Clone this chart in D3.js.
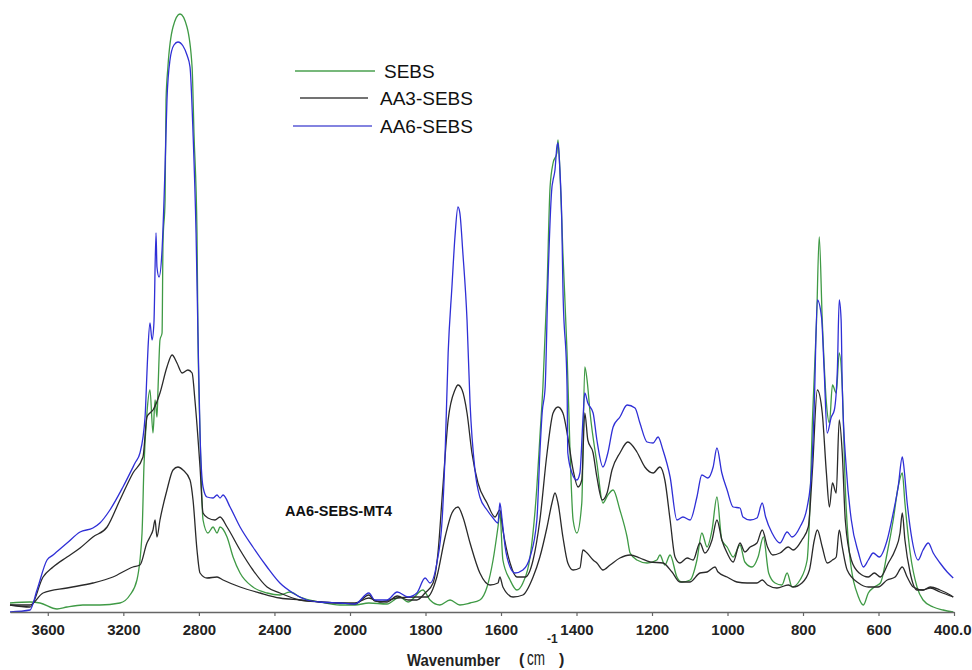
<!DOCTYPE html>
<html>
<head>
<meta charset="utf-8">
<script src="https://cdn.jsdelivr.net/npm/d3@7"></script>
<style>
  html, body { margin: 0; padding: 0; background: #fff; }
  svg { display: block; }
</style>
</head>
<body>
<svg id="chart" width="972" height="670"></svg>
<script>
// ---- Data (wavenumber cm^-1, absorbance in arbitrary units) ----
const tickValues = [3600, 3200, 2800, 2400, 2000, 1800, 1600, 1400, 1200, 1000, 800, 600, 400];
const tickLabels = ["3600", "3200", "2800", "2400", "2000", "1800", "1600", "1400", "1200", "1000", "800", "600", "400.0"];
const legendNames = ["SEBS", "AA3-SEBS", "AA6-SEBS"];
const annotation = "AA6-SEBS-MT4";

const SEBS = [
  [3800,1.8],[3694,2.0],[3641,1.8],[3551,0.6],[3498,1.0],[3414,1.4],[3324,1.4],[3218,1.8],[3165,3.4],[3128,6.4],
  [3101,15.8],[3091,29],[3075,39.8],[3059,44.4],[3043,35.8],[3032,42.4],[3022,39],[3016,45],[3006,54.4],[2995,55.8],
  [2990,73.8],[2979,82.4],[2974,102.4],[2964,109],[2937,117],[2900,119.6],[2863,117],[2836,109],[2826,95.8],[2810,75.8],
  [2805,55.8],[2794,35.8],[2778,18.4],[2752,15.8],[2725,17],[2704,15.8],[2688,17],[2651,15],[2619,11],[2582,7.8],
  [2514,5.0],[2439,3.8],[2371,3.4],[2318,4.0],[2265,3.0],[2159,2.0],[2053,1.4],[1987,1.4],[1950,1.8],[1902,1.6],
  [1868,3.0],[1846,2.0],[1807,4.4],[1788,2.4],[1762,1.4],[1735,2.4],[1709,1.4],[1682,1.8],[1656,2.4],[1637,5.0],
  [1621,10.4],[1608,17],[1603,19.8],[1595,10.4],[1576,6.4],[1558,4.4],[1542,5.8],[1523,11],[1505,25],[1497,35],
  [1489,45],[1478,65],[1470,85],[1462,89.8],[1452,91.8],[1449,94.4],[1444,88.4],[1436,71.8],[1425,51.8],[1417,31.8],
  [1409,18.4],[1399,15.8],[1386,21.8],[1378,49],[1372,46.4],[1364,39.8],[1346,29.8],[1330,21.8],[1317,23.4],[1303,24.4],
  [1285,20.4],[1266,15],[1258,11.8],[1240,10.4],[1213,9.8],[1187,10.4],[1179,11.4],[1166,9.4],[1152,11.4],[1134,7.0],
  [1121,6.0],[1099,6.4],[1081,10.4],[1068,15.8],[1054,13],[1041,16.4],[1028,23],[1015,14.4],[1001,13],[985,11],
  [967,13.4],[954,10],[935,9],[919,11],[905,15],[891,7.8],[874,5.8],[856,5.4],[842,7.8],[829,5.0],
  [808,6.4],[789,10.4],[783,18.4],[775,38.4],[764,58.4],[757,75],[749,58.4],[738,41.8],[730,37.8],[722,45.4],
  [712,43.8],[704,51.8],[696,45],[688,25],[677,11.8],[653,3.0],[640,1.4],[627,3.8],[611,5.0],[595,5.8],
  [577,11.8],[561,18.4],[548,25],[537,27.8],[530,21.8],[516,11.8],[498,5.0],[482,2.4],[455,1.0],[429,0.4],[402,0]
];

const AA3_SEBS = [
  [3800,1.4],[3694,1.0],[3625,7.0],[3572,9.0],[3498,11],[3429,12.8],[3361,15],[3286,17],[3218,22.4],[3149,27.8],
  [3096,31],[3075,39],[3059,39.8],[3043,40.4],[3006,43.8],[2969,49],[2942,51.4],[2916,49.8],[2889,47.8],[2858,48.4],
  [2836,47.8],[2821,42.4],[2794,29],[2778,19.8],[2752,18.8],[2715,18.4],[2688,19],[2651,17],[2582,12.4],[2514,8.4],
  [2439,5.0],[2371,3.8],[2265,2.4],[2159,2.0],[2053,1.8],[1987,1.6],[1950,3.4],[1934,2.2],[1902,2.0],[1875,3.2],
  [1846,2.4],[1823,2.4],[1801,3.8],[1780,5.8],[1767,11.8],[1754,25],[1740,38.4],[1722,44.4],[1714,45.4],[1703,44.4],
  [1690,39.8],[1677,31.8],[1661,25.8],[1637,21.8],[1616,19],[1603,20.4],[1595,16.4],[1576,9.8],[1558,7.0],[1536,7.0],
  [1515,10.4],[1497,18.4],[1478,31.8],[1462,39.8],[1449,41],[1436,39.8],[1423,35],[1409,28.4],[1396,25],[1386,26.4],
  [1378,39.8],[1370,34.4],[1356,31.8],[1346,27],[1332,22.4],[1319,23.8],[1306,28.4],[1285,31.8],[1264,34],[1240,32],
  [1219,29],[1197,27.8],[1179,29],[1166,26.4],[1152,18.4],[1139,11],[1126,9.8],[1107,10.8],[1091,10.4],[1073,13.8],
  [1060,11.8],[1041,14.4],[1028,18.4],[1015,14.4],[1001,11.8],[985,10],[967,13.8],[954,12],[940,13],[922,13.8],
  [908,16.4],[894,13],[880,11.4],[861,11.8],[839,13],[826,12.4],[803,14.4],[786,17],[775,28.4],[762,44.4],
  [749,39.8],[738,27.8],[730,21],[722,25.8],[712,23.8],[704,38.4],[696,31.8],[688,18.4],[672,10.4],[651,7.8],
  [627,7.0],[611,7.8],[595,7.0],[574,9.8],[556,12.4],[543,15.8],[537,19.8],[530,14.4],[516,7.8],[498,4.4],
  [482,4.4],[463,5.0],[437,4.4],[410,3.4],[402,3.0]
];

const AA6_SEBS = [
  [3800,0],[3694,0.4],[3657,4.4],[3604,10.4],[3572,11.4],[3498,13.8],[3429,16],[3361,16.8],[3324,17.8],[3271,20.4],
  [3202,25],[3138,29.8],[3112,31.8],[3085,39],[3075,47.8],[3069,53],[3059,57.8],[3048,54.4],[3038,57.8],[3027,75.8],
  [3022,69],[3011,67],[2995,72.4],[2979,89],[2969,102.4],[2953,110.4],[2932,113.4],[2911,114],[2884,113.2],[2863,111.4],
  [2847,109],[2831,95.8],[2815,75.8],[2805,55.8],[2794,35.8],[2778,25],[2757,23],[2725,22.8],[2704,23.4],[2688,22.8],
  [2672,23.4],[2635,21],[2582,17],[2514,13],[2439,9.0],[2371,5.8],[2302,3.8],[2228,2.4],[2159,2.0],[2053,1.8],
  [1987,1.6],[1950,3.8],[1934,2.4],[1902,2.4],[1875,4.0],[1846,3.0],[1823,3.8],[1801,6.8],[1788,5.8],[1770,9.8],
  [1756,18.4],[1748,31.8],[1740,51.8],[1730,65],[1722,75],[1714,81],[1709,79.8],[1701,71.8],[1690,58.4],[1682,41.8],
  [1669,28.4],[1656,23],[1637,20.4],[1621,18.8],[1608,17.8],[1603,21.8],[1597,18.4],[1589,13],[1576,9.0],[1563,7.8],
  [1542,8.4],[1523,11],[1505,18.4],[1497,31.8],[1491,39.8],[1483,45],[1476,65],[1465,85],[1462,86.4],[1457,88.4],
  [1452,93],[1449,93.8],[1444,88.4],[1439,78.4],[1436,65],[1425,45],[1423,31.8],[1412,27.8],[1399,26.4],[1391,27.8],
  [1383,38.4],[1378,43.8],[1370,41.8],[1356,39.8],[1346,34.4],[1330,29],[1317,31.8],[1303,37],[1285,39],[1266,41.4],
  [1245,40.8],[1232,37.8],[1213,34],[1197,33.8],[1184,35],[1171,32.4],[1152,27],[1134,18.4],[1118,19],[1099,18.4],
  [1081,23],[1068,27.4],[1052,26.8],[1038,29],[1028,32.8],[1015,27.8],[1001,24.4],[985,21],[967,20.8],[959,19],
  [940,18.4],[922,18.8],[908,21.8],[899,19],[882,15.8],[861,13.8],[842,16],[829,15],[808,17],[789,21],
  [777,28.4],[770,41.8],[762,62.4],[751,59],[744,48.4],[736,35.8],[725,39],[717,40.4],[709,48.4],[704,62.4],
  [699,58.4],[696,45],[685,28.4],[672,18.4],[653,11.8],[640,9.0],[627,10.4],[614,11.8],[598,11],[577,14.4],
  [561,19.8],[548,25],[537,31],[534,29.8],[524,21.8],[511,14.4],[495,10.4],[482,12.4],[468,13.8],[455,11.8],
  [437,9.8],[418,8.0],[402,6.8]
];

const AA6_SEBS_MT4 = [
  [3800,1.4],[3694,1.4],[3625,3.8],[3498,4.8],[3361,5.8],[3255,7.0],[3149,9.0],[3112,9.4],[3075,13.8],[3059,15],
  [3043,16.4],[3032,18.4],[3022,15],[3006,18.4],[2969,24.4],[2937,28.4],[2911,29],[2884,28.4],[2847,26.4],[2831,22.4],
  [2810,12.4],[2794,7.8],[2757,6.8],[2704,7.0],[2672,6.4],[2582,5.0],[2476,3.8],[2371,2.8],[2265,2.4],[2159,2.0],
  [2053,1.8],[1987,1.8],[1950,2.8],[1921,2.0],[1875,2.8],[1823,3.0],[1796,3.0],[1770,7.0],[1748,15],[1730,19.8],
  [1714,21],[1701,19],[1682,13.8],[1656,7.8],[1629,5.4],[1608,5.8],[1603,7.0],[1595,5.0],[1568,3.0],[1542,3.4],
  [1515,7.0],[1497,11],[1478,17],[1465,21.8],[1457,23.8],[1449,21.8],[1436,15],[1423,9.8],[1409,8.4],[1391,8.8],
  [1383,12.4],[1372,11.8],[1356,10.4],[1346,9.8],[1330,8.4],[1311,9.4],[1285,10.8],[1258,11.4],[1232,10.8],[1205,10],
  [1171,9.8],[1147,8.0],[1126,6.0],[1099,6.0],[1073,7.8],[1054,8.0],[1033,9.0],[1025,8.0],[1001,7.0],[975,6.0],
  [948,5.8],[922,5.8],[908,6.4],[894,5.4],[869,4.8],[839,5.4],[826,5.0],[803,5.8],[783,8.4],[770,14.4],
  [762,16.4],[749,13],[736,9.8],[722,10.4],[712,11],[704,16.4],[696,13],[683,8.4],[653,5.8],[627,5.0],
  [601,5.0],[577,6.4],[556,7.0],[537,9.0],[524,7.0],[508,5.0],[482,4.4],[463,4.8],[437,4.0],[402,3.0]
];

// ---- Layout ----
const svg = d3.select("#chart");
const axisY = 612;

// split wavenumber axis (400 cm-1 per step above 2000, 200 cm-1 per step below)
const x = d3.scaleLinear().domain([3800, 2000, 400]).range([10, 350, 954]);
const y = d3.scaleLinear().domain([0, 120]).range([axisY, 12]);

const line = d3.line().x(d => x(d[0])).y(d => y(d[1])).curve(d3.curveMonotoneX);

const series = [
  { name: "SEBS", data: SEBS, color: "#3f9a45" },
  { name: "AA3-SEBS", data: AA3_SEBS, color: "#2a2a2a" },
  { name: "AA6-SEBS-MT4", data: AA6_SEBS_MT4, color: "#2a2a2a" },
  { name: "AA6-SEBS", data: AA6_SEBS, color: "#2f2fd6" }
];

svg.append("g").selectAll("path").data(series).join("path")
  .attr("d", d => line(d.data))
  .attr("fill", "none")
  .attr("stroke", d => d.color)
  .attr("stroke-width", 1.3)
  .attr("stroke-linejoin", "round");

// ---- X axis ----
const labelMap = new Map(tickValues.map((v, i) => [v, tickLabels[i]]));
const xAxis = d3.axisBottom(x)
  .tickValues(tickValues)
  .tickFormat(v => labelMap.get(v))
  .tickSize(4)
  .tickSizeOuter(0)
  .tickPadding(8);

const gx = svg.append("g").attr("transform", `translate(0,${axisY})`).call(xAxis);
gx.select(".domain").attr("stroke", "#666").attr("stroke-width", 1.4);
gx.selectAll(".tick line").attr("stroke", "#666").attr("stroke-width", 1.2);
gx.selectAll(".tick text")
  .attr("fill", "#222")
  .style("font-family", "'Liberation Sans', Arial, sans-serif")
  .style("font-weight", "bold")
  .style("font-size", "15px");
// last label sits flush against the right edge, as in the original
gx.selectAll(".tick text").filter(v => v === 400).attr("text-anchor", "end").attr("dx", 17);

// Axis title: "Wavenumber ( cm-1 )"
const tg = svg.append("g").attr("fill", "#222")
  .style("font-family", "'Liberation Sans', Arial, sans-serif");
tg.append("text").attr("x", 407).attr("y", 666).text("Wavenumber")
  .attr("textLength", 93).attr("lengthAdjust", "spacingAndGlyphs")
  .style("font-weight", "bold").style("font-size", "17px");
tg.append("text").attr("x", 519).attr("y", 665).text("(")
  .style("font-weight", "bold").style("font-size", "16px");
tg.append("text").attr("x", 527).attr("y", 665).text("cm")
  .attr("textLength", 18).attr("lengthAdjust", "spacingAndGlyphs")
  .style("font-size", "20px");
tg.append("text").attr("x", 547).attr("y", 643).text("-1")
  .style("font-weight", "bold").style("font-size", "12px");
tg.append("text").attr("x", 559).attr("y", 665).text(")")
  .style("font-weight", "bold").style("font-size", "16px");

// ---- Legend ----
const legendColors = ["#4aa04f", "#444444", "#5a5ad6"];
const legendLines = [[295, 375, 71], [300, 368, 98], [293, 372, 126]];
const lg = svg.append("g");
legendNames.forEach((n, i) => {
  const [x1, x2, ly] = legendLines[i];
  lg.append("line").attr("x1", x1).attr("x2", x2).attr("y1", ly).attr("y2", ly)
    .attr("stroke", legendColors[i]).attr("stroke-width", 1.6);
  lg.append("text").attr("x", i === 0 ? 384 : 380).attr("y", ly + 7)
    .text(n)
    .attr("fill", "#111")
    .style("font-family", "'Liberation Sans', Arial, sans-serif")
    .style("font-size", "19px");
});

// ---- Annotation ----
svg.append("text")
  .attr("x", 285).attr("y", 516)
  .text(annotation)
  .attr("fill", "#111")
  .style("font-family", "'Liberation Sans', Arial, sans-serif")
  .style("font-weight", "bold")
  .style("font-size", "14.5px");
</script>
</body>
</html>
